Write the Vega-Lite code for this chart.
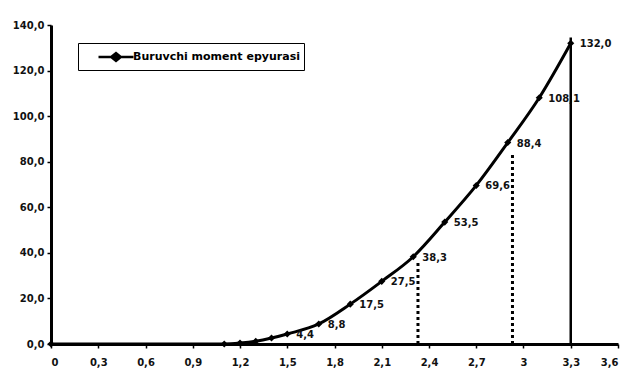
{
  "$schema": "https://vega.github.io/schema/vega-lite/v6.json",
  "autosize": "none",
  "width": 567,
  "height": 319,
  "padding": {"left": 51, "top": 25, "right": 25, "bottom": 40},
  "background": "white",
  "config": {
    "locale": {"number": {"decimal": ",", "thousands": " ", "grouping": [3], "currency": ["", ""]}},
    "view": {"stroke": null},
    "axis": {
      "grid": false,
      "domainColor": "black",
      "domainWidth": 3,
      "tickColor": "black",
      "tickWidth": 1.5,
      "tickSize": 4,
      "labelFont": "DejaVu Sans",
      "labelFontWeight": "bold",
      "labelFontSize": 10,
      "labelColor": "#111",
      "title": null
    },
    "text": {"font": "DejaVu Sans", "fontWeight": "bold", "fontSize": 10}
  },
  "datasets": {
    "curve": [
      {"x": 0, "M": 0},
      {"x": 1.1, "M": 0},
      {"x": 1.2, "M": 0.4},
      {"x": 1.3, "M": 1.2},
      {"x": 1.4, "M": 2.6},
      {"x": 1.5, "M": 4.4},
      {"x": 1.7, "M": 8.8},
      {"x": 1.9, "M": 17.5},
      {"x": 2.1, "M": 27.5},
      {"x": 2.3, "M": 38.3},
      {"x": 2.5, "M": 53.5},
      {"x": 2.7, "M": 69.6},
      {"x": 2.9, "M": 88.4},
      {"x": 3.1, "M": 108.1},
      {"x": 3.3, "M": 132.0}
    ],
    "dotted": [
      {"x": 2.33, "base": 0, "top": 36},
      {"x": 2.93, "base": 0, "top": 84}
    ],
    "solid": [
      {"x": 3.3, "base": 0, "top": 134.5}
    ]
  },
  "layer": [
    {
      "data": {"name": "curve"},
      "transform": [{"calculate": "'Buruvchi moment epyurasi'", "as": "series"}],
      "mark": {"type": "line", "interpolate": "monotone", "strokeWidth": 3,
               "point": {"filled": true, "shape": "diamond", "size": 50}},
      "encoding": {
        "x": {"field": "x", "type": "quantitative",
              "scale": {"domain": [0, 3.6], "nice": false},
              "axis": {"values": [0, 0.3, 0.6, 0.9, 1.2, 1.5, 1.8, 2.1, 2.4, 2.7, 3, 3.3, 3.6],
                       "format": "~g", "labelPadding": 9}},
        "y": {"field": "M", "type": "quantitative",
              "scale": {"domain": [0, 140], "nice": false},
              "axis": {"values": [0, 20, 40, 60, 80, 100, 120, 140], "format": ".1f", "labelPadding": 3}},
        "color": {"field": "series", "type": "nominal",
                  "scale": {"range": ["black"]},
                  "legend": {
                    "title": null,
                    "orient": "none",
                    "legendX": 27,
                    "legendY": 18,
                    "strokeColor": "black",
                    "padding": 4,
                    "labelFont": "DejaVu Sans",
                    "labelFontWeight": "bold",
                    "labelFontSize": 11,
                    "labelLimit": 400,
                    "labelColor": "black",
                    "symbolType": "M-2,0H2M-0.55,0L0,-0.45L0.55,0L0,0.45Z",
                    "symbolSize": 306,
                    "symbolStrokeWidth": 2.5,
                    "symbolStrokeColor": "black",
                    "symbolFillColor": "black",
                    "symbolOffset": 24,
                    "labelOffset": 7
                  }}
      }
    },
    {
      "data": {"name": "curve"},
      "transform": [{"filter": "datum.x >= 1.5"}],
      "mark": {"type": "text", "align": "left", "baseline": "middle", "dx": 9, "dy": 1, "color": "#111"},
      "encoding": {
        "x": {"field": "x", "type": "quantitative"},
        "y": {"field": "M", "type": "quantitative"},
        "text": {"field": "M", "type": "quantitative", "format": ".1f"}
      }
    },
    {
      "data": {"name": "dotted"},
      "mark": {"type": "rule", "color": "black", "strokeWidth": 3, "strokeDash": [3, 3]},
      "encoding": {
        "x": {"field": "x", "type": "quantitative"},
        "y": {"field": "base", "type": "quantitative"},
        "y2": {"field": "top"}
      }
    },
    {
      "data": {"name": "solid"},
      "mark": {"type": "rule", "color": "black", "strokeWidth": 2.5},
      "encoding": {
        "x": {"field": "x", "type": "quantitative"},
        "y": {"field": "base", "type": "quantitative"},
        "y2": {"field": "top"}
      }
    }
  ]
}
